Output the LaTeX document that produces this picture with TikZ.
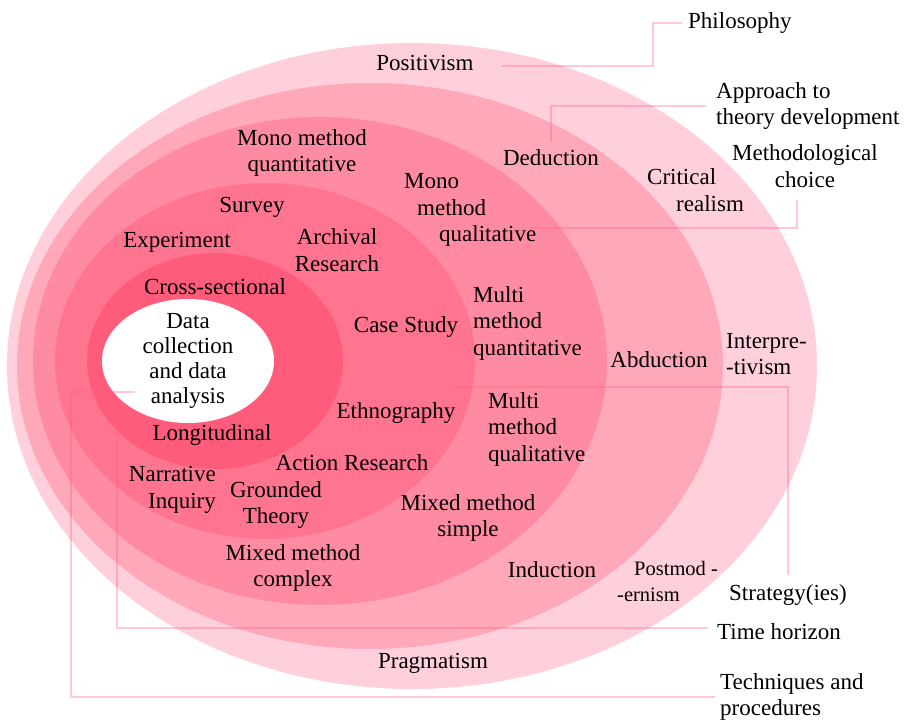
\documentclass[tikz,border=0pt]{standalone}
\usepackage{fontspec}
\setmainfont{Liberation Serif}
\definecolor{ringA}{HTML}{FFD0DC}
\definecolor{ringB}{HTML}{FFA8BA}
\definecolor{ringC}{HTML}{FF8BA2}
\definecolor{ringD}{HTML}{FF7590}
\definecolor{ringE}{HTML}{FF5C7C}
\definecolor{linkpink}{HTML}{FF6080}
\begin{document}
\begin{tikzpicture}[x=1pt,y=-1pt,
  lbl/.style={inner sep=0pt, font=\fontsize{23}{26.5}\selectfont, text=black, align=center},
  small/.style={lbl, font=\fontsize{20.5}{26}\selectfont},
  link/.style={draw=linkpink, line width=2.2pt, draw opacity=0.35},
]
\useasboundingbox (0,0) rectangle (914,720);

% the onion layers, outermost first
\fill[ringA] (412,366) ellipse [x radius=405pt, y radius=323pt];
\fill[ringB] (370,366) ellipse [x radius=353pt, y radius=283pt];
\fill[ringC] (320,361) ellipse [x radius=287pt, y radius=244pt];
\fill[ringD] (265,361) ellipse [x radius=210pt, y radius=178pt];
\fill[ringE] (215,361) ellipse [x radius=128pt, y radius=108pt];
\fill[white] (188,361) ellipse [x radius=86pt, y radius=62pt];

% layer labels
\node[lbl] (pos) at (425,63) {Positivism};
\node[lbl] (ded) at (551,158) {Deduction};
\node[lbl, align=left, anchor=west] (crit) at (647,190) {Critical\\\hspace*{29pt}realism};
\node[lbl, align=left, anchor=west] (interp) at (726,354) {Interpre-\\-tivism};
\node[lbl] (abd) at (659,360) {Abduction};
\node[lbl] (ind) at (552,570) {Induction};
\node[small, align=left, anchor=west] (postm) at (617,581) {\hspace*{17pt}Postmod -\\-ernism};
\node[lbl] (prag) at (433,663) {Pragmatism};

\node[lbl] (mmquant) at (302,153) {Mono method\\quantitative};
\node[lbl, align=left, anchor=west] (mmqual) at (404,210) {Mono\\\hspace*{13pt}method\\\hspace*{35pt}qualitative};
\node[lbl, align=left, anchor=west] (multiquant) at (473,323) {Multi\\method\\quantitative};
\node[lbl, align=left, anchor=west] (multiqual) at (488,429) {Multi\\method\\qualitative};
\node[lbl] (mixs) at (468,518) {Mixed method\\simple};
\node[lbl] (mixc) at (293,568) {Mixed method\\complex};

\node[lbl] (survey) at (252,207) {Survey};
\node[lbl] (exper) at (177,242) {Experiment};
\node[lbl] (arch) at (337,250) {Archival\\Research};
\node[lbl] (case) at (406,327) {Case Study};
\node[lbl] (ethno) at (396,413) {Ethnography};
\node[lbl] (action) at (352,463) {Action Research};
\node[lbl, align=right, anchor=east] (narr) at (216,490) {Narrative\\Inquiry};
\node[lbl] (ground) at (276,505) {Grounded\\Theory};

\node[lbl] (cross) at (215,287) {Cross-sectional};
\node[lbl] (longi) at (212,435) {Longitudinal};
\node[lbl, font=\fontsize{23}{25}\selectfont] (core) at (188,361) {Data\\collection\\and data\\analysis};

% legend labels
\node[lbl, anchor=west] (phil) at (688,23) {Philosophy};
\node[lbl, align=left, anchor=west] (appr) at (716,106) {Approach to\\theory development};
\node[lbl] (meth) at (805,166) {Methodological\\choice};
\node[lbl, anchor=west] (strat) at (729,595) {Strategy(ies)};
\node[lbl, anchor=west] (time) at (717,632) {Time horizon};
\node[lbl, align=left, anchor=west] (tech) at (720,697) {Techniques and\\procedures};

% free ends of the leader lines
\coordinate (mqs) at (530,228);
\coordinate (sts) at (450,387);
\coordinate (ths) at (117,410);
\coordinate (tqs) at (135,392);

% leader lines
\draw[link] ([xshift=28pt,yshift=-3pt]pos.east) -| ([xshift=-35pt]phil.west) -- ([xshift=-6pt]phil.west);
\draw[link] ([yshift=8pt]ded.north) |- ([xshift=-10pt]appr.west);
\draw[link] (mqs) -| ([xshift=-8pt,yshift=-12pt]meth.south);
\draw[link] (sts) -| ([yshift=9pt]strat.north);
\draw[link] (ths) |- ([xshift=-9pt,yshift=4pt]time.west);
\draw[link] (tqs) -- ++(-64,0) |- ([xshift=-5pt]tech.west);
\end{tikzpicture}
\end{document}
